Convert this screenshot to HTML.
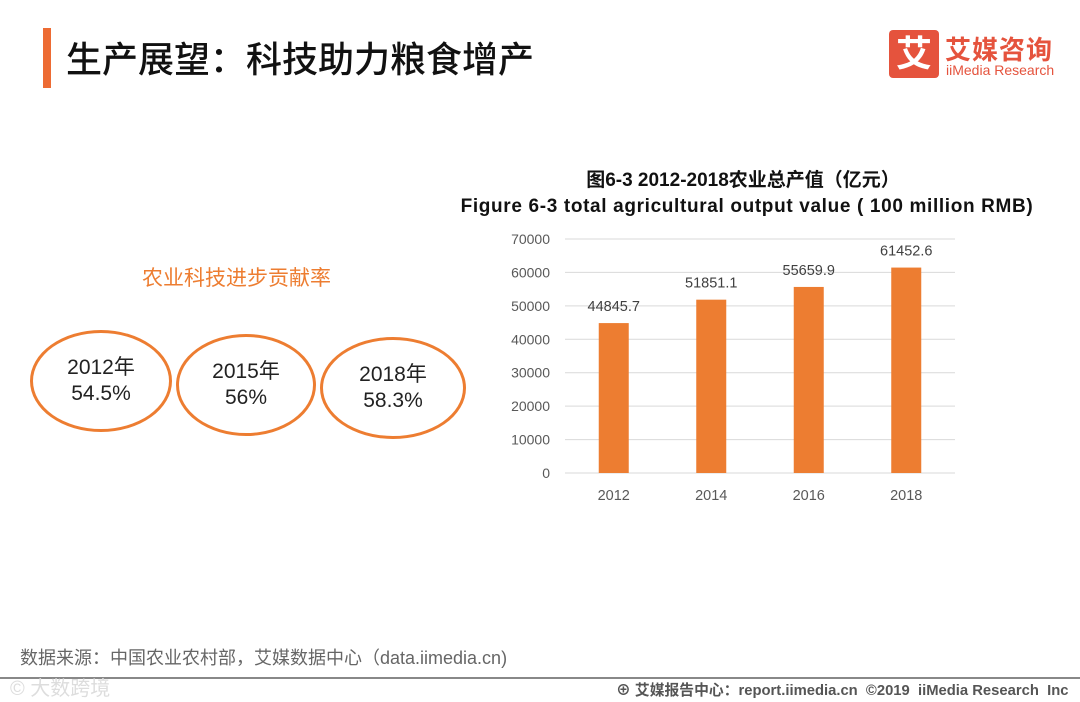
<!DOCTYPE html>
<html><head><meta charset="utf-8"><style>
body{margin:0;width:1080px;height:702px;background:#fff;position:relative;overflow:hidden;font-family:"Liberation Sans","Noto Sans CJK SC",sans-serif;}
.abs{position:absolute;}
.ell{position:absolute;border:3px solid #ED7D31;border-radius:50%;box-sizing:border-box;text-align:center;font-size:21px;color:#222;line-height:26px;}
</style></head><body>
<div class="abs" style="left:43px;top:28px;width:8px;height:60px;background:#ED6B33"></div>
<div class="abs" style="left:66px;top:31px;font-size:36px;color:#111;font-weight:500">生产展望：科技助力粮食增产</div>
<div class="abs" style="left:889px;top:30px;width:50px;height:48px;background:#E5533D;border-radius:4px;color:#fff;font-size:36px;text-align:center;line-height:48px;font-weight:bold">艾</div>
<div class="abs" style="left:945px;top:30px;font-size:26px;color:#E5533D;font-weight:bold;letter-spacing:1px">艾媒咨询</div>
<div class="abs" style="left:946px;top:62px;font-size:14px;color:#E5533D">iiMedia Research</div>
<div class="abs" style="left:142px;top:262px;font-size:21px;color:#ED7D31">农业科技进步贡献率</div>
<div class="ell" style="left:30px;top:330px;width:142px;height:102px;padding-top:22px">2012年<br>54.5%</div>
<div class="ell" style="left:176px;top:334px;width:140px;height:102px;padding-top:22px">2015年<br>56%</div>
<div class="ell" style="left:320px;top:337px;width:146px;height:102px;padding-top:22px">2018年<br>58.3%</div>
<div class="abs" style="left:443px;top:169px;width:600px;text-align:center;font-size:19px;line-height:24px;font-weight:bold;color:#111">图6-3 2012-2018农业总产值（亿元）</div>
<div class="abs" style="left:347px;top:195px;width:800px;text-align:center;font-size:19px;line-height:24px;font-weight:bold;color:#111;letter-spacing:0.65px">Figure 6-3 total agricultural output value ( 100 million RMB)</div>
<svg class="abs" style="left:0;top:0" width="1080" height="702" id="chart"></svg>
<div class="abs" style="left:20px;top:644px;font-size:18px;color:#666">数据来源：中国农业农村部，艾媒数据中心（data.iimedia.cn)</div>
<div class="abs" style="left:0;top:677px;width:1080px;height:2px;background:#888"></div>
<div class="abs" style="left:10px;top:672px;font-size:20px;color:#ddd">© 大数跨境</div>
<div class="abs" style="left:616px;top:679px;font-size:14.8px;color:#555;font-weight:bold">⊕ 艾媒报告中心：report.iimedia.cn &nbsp;©2019 &nbsp;iiMedia Research &nbsp;Inc</div>
<script>
const categories=["2012","2014","2016","2018"];
const values=[44845.7,51851.1,55659.9,61452.6];
const valueLabels=["44845.7","51851.1","55659.9","61452.6"];
const ticks=[0,10000,20000,30000,40000,50000,60000,70000];
const svg=document.getElementById('chart');
const NS='http://www.w3.org/2000/svg';
const x0=565,x1=955,y0=473,y1=239,ymax=70000;
const y=v=>y0-(v/ymax)*(y0-y1);
const step=(x1-x0)/categories.length;
const xc=i=>x0+step*(i+0.5);
function mk(t,a){const e=document.createElementNS(NS,t);for(const k in a)e.setAttribute(k,a[k]);svg.appendChild(e);return e;}
ticks.forEach(t=>{
 const l=mk('line',{x1:x0,x2:x1,y1:y(t),y2:y(t),stroke:'#d9d9d9','stroke-width':1});
 
 
 const tx=mk('text',{x:550,y:y(t)+5,'text-anchor':'end','font-size':14,fill:'#595959','font-family':'Liberation Sans'});
 tx.textContent=t;
 
 
});
categories.forEach((c,i)=>{
 const b=mk('rect',{x:xc(i)-15,y:y(values[i]),width:30,height:y0-y(values[i]),fill:'#ED7D31'});
 
 
 const v=mk('text',{x:xc(i),y:y(values[i])-12,'text-anchor':'middle','font-size':14.5,fill:'#404040','font-family':'Liberation Sans'});
 v.textContent=valueLabels[i];
 
 
 const t=mk('text',{x:xc(i),y:500,'text-anchor':'middle','font-size':14.5,fill:'#595959','font-family':'Liberation Sans'});
 t.textContent=c;
 
 
});
</script>
</body></html>
